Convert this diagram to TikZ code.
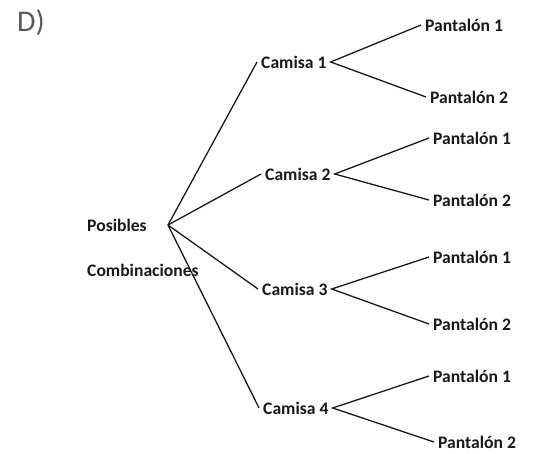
\documentclass[tikz,border=0pt]{standalone}
\usepackage{fontspec}
\setmainfont{Carlito}
\begin{document}
\begin{tikzpicture}[x=1pt,y=-1pt,
  lbl/.style={font=\fontsize{17.6}{20}\selectfont\bfseries, inner xsep=4pt, inner ysep=2pt, anchor=west, text=black!90},
  br/.style={line width=1.3pt, black!90}]
\useasboundingbox (0,0) rectangle (543,454);
\node[font=\fontsize{30}{32}\selectfont, text=black!65, anchor=west, inner sep=0pt] (d) at (17,23) {D)};
\node[lbl] (pos) at (83,225) {Posibles};
\node[lbl] (comb) at (83,270) {Combinaciones};
\coordinate (root) at (168,225);
\node[lbl] (c1) at (257,62) {Camisa 1};
\node[lbl] (c2) at (261,174) {Camisa 2};
\node[lbl] (c3) at (258,289) {Camisa 3};
\node[lbl] (c4) at (259,408) {Camisa 4};
\node[lbl] (p11) at (421,25) {Pantalón 1};
\node[lbl] (p12) at (426,97) {Pantalón 2};
\node[lbl] (p21) at (429,138) {Pantalón 1};
\node[lbl] (p22) at (429,200) {Pantalón 2};
\node[lbl] (p31) at (429,257) {Pantalón 1};
\node[lbl] (p32) at (429,324) {Pantalón 2};
\node[lbl] (p41) at (429,376) {Pantalón 1};
\node[lbl] (p42) at (434,442) {Pantalón 2};
\draw[br] (root) -- (c1.west);
\draw[br] (root) -- (c2.west);
\draw[br] (root) -- (c3.west);
\draw[br] (root) -- (c4.west);
\draw[br] (p11.west) -- (c1.east) -- (p12.west);
\draw[br] (p21.west) -- (c2.east) -- (p22.west);
\draw[br] (p31.west) -- (c3.east) -- (p32.west);
\draw[br] (p41.west) -- (c4.east) -- (p42.west);
\end{tikzpicture}
\end{document}
